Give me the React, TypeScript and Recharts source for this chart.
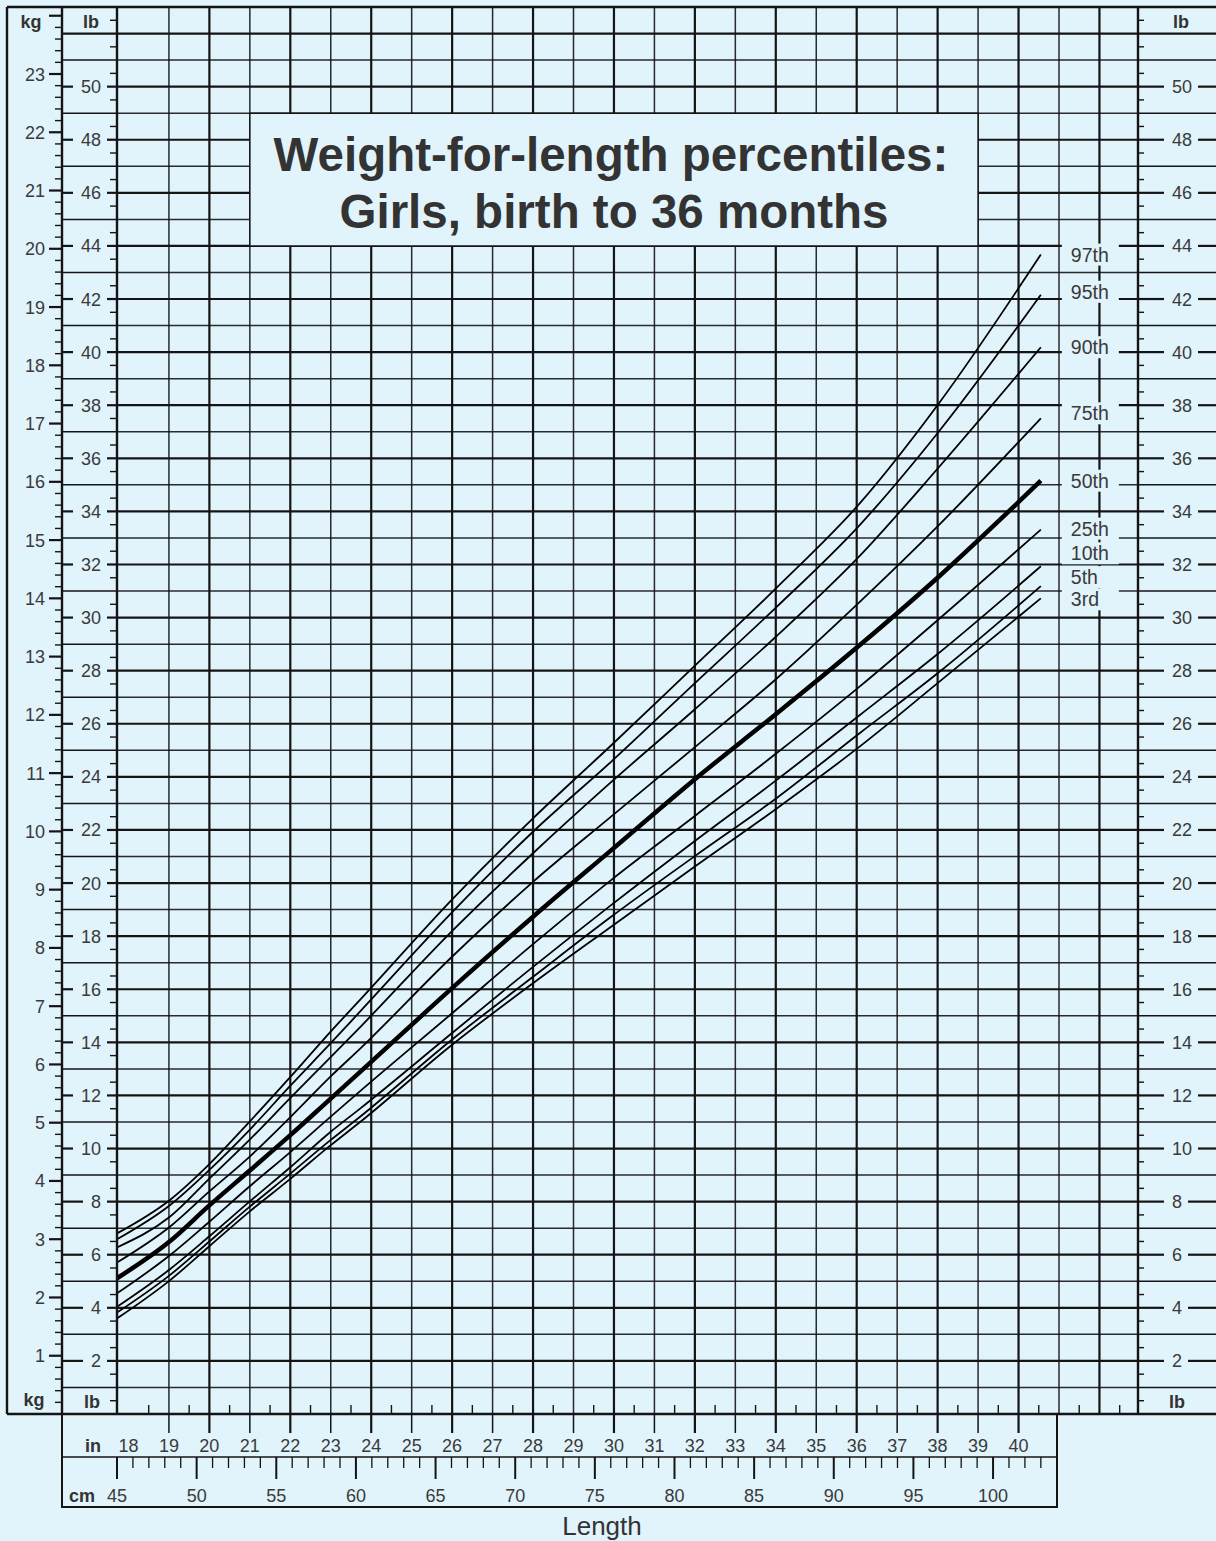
import React from "react";
import {
  ComposedChart,
  Line,
  XAxis,
  YAxis,
  CartesianGrid,
  ReferenceArea,
  Customized,
} from "recharts";

const lengthCm = [45, 48.3, 50.8, 53.3, 55.9, 58.4, 60.3, 66, 71.1, 76, 81.3, 86.4, 91.6, 96.5, 103];

// weight (kg) per percentile
const p97 = [3.1, 3.67, 4.29, 5.01, 5.79, 6.56, 7.12, 8.82, 10.22, 11.47, 12.85, 14.18, 15.62, 17.31, 19.9];
const p95 = [3.0, 3.58, 4.19, 4.87, 5.64, 6.36, 6.92, 8.6, 9.99, 11.19, 12.55, 13.85, 15.25, 16.83, 19.21];
const p90 = [2.86, 3.38, 4.04, 4.7, 5.43, 6.12, 6.65, 8.28, 9.62, 10.84, 12.1, 13.35, 14.72, 16.22, 18.31];
const p75 = [2.6, 3.21, 3.82, 4.41, 5.1, 5.79, 6.28, 7.84, 9.13, 10.25, 11.45, 12.62, 13.93, 15.23, 17.09];
const p50 = [2.33, 2.96, 3.58, 4.17, 4.79, 5.41, 5.88, 7.3, 8.53, 9.67, 10.9, 12.02, 13.19, 14.35, 16.02];
const p25 = [2.07, 2.72, 3.3, 3.9, 4.5, 5.1, 5.55, 6.87, 8.06, 9.16, 10.27, 11.34, 12.48, 13.62, 15.18];
const p10 = [1.84, 2.48, 3.05, 3.64, 4.24, 4.84, 5.25, 6.53, 7.67, 8.73, 9.84, 10.88, 11.99, 13.04, 14.55];
const p5 = [1.74, 2.38, 2.96, 3.55, 4.13, 4.7, 5.11, 6.42, 7.5, 8.53, 9.58, 10.57, 11.68, 12.71, 14.21];
const p3 = [1.64, 2.29, 2.88, 3.47, 4.04, 4.61, 5.02, 6.33, 7.39, 8.36, 9.4, 10.39, 11.45, 12.54, 14.0];

const seriesKeys = ["p97", "p95", "p90", "p75", "p50", "p25", "p10", "p5", "p3"];
const seriesNames = ["97th", "95th", "90th", "75th", "50th", "25th", "10th", "5th", "3rd"];
const seriesValues = [p97, p95, p90, p75, p50, p25, p10, p5, p3];

// small vertical nudges so the end labels don't run into each other
const labelNudge = [0, -3, 0, -5, 0, -1, -13, -9, 1];

const CM_PER_IN = 2.54;
const lbTicks = Array.from({ length: 107 }, (_, i) => i / 2);
const kgTicks = Array.from({ length: 121 }, (_, i) => i / 5);
const inchTicks = Array.from({ length: 50 }, (_, i) => (18 + i / 2) * CM_PER_IN);
const cmTicks = Array.from({ length: 59 }, (_, i) => 45 + i);
const oddLb = Array.from({ length: 26 }, (_, i) => 2 * i + 1);
const evenLb = Array.from({ length: 26 }, (_, i) => 2 * i + 2);
const oddIn = [19, 21, 23, 25, 27, 29, 31, 33, 35, 37, 39, 41].map((v) => v * CM_PER_IN);
const evenIn = [20, 22, 24, 26, 28, 30, 32, 34, 36, 38, 40, 42].map((v) => v * CM_PER_IN);

const data = lengthCm.map((cm, i) => {
  const row: Record<string, number> = { cm };
  seriesKeys.forEach((k, s) => {
    row[k] = seriesValues[s][i];
  });
  return row;
});

const BG = "#e1f3fb";
const INK = "#141414";
const TXT = "#3a3a3a";
const FONT = "'Liberation Sans', Arial, Helvetica, sans-serif";

// layout
const W = 1216;
const H = 1541;
const FRAME_L = 7;
const TOP = 7;
const KG_X = 62;
const LB_X = 117;
const R_X = 1138;
const BOTTOM = 1414;
const RULER_R = 1057;
const RULER_MID = 1457;
const RULER_B = 1507;

const isWhole = (v: number) => Math.abs(v - Math.round(v)) < 1e-6;

const KgTick = (props: any) => {
  const { y, payload } = props;
  const v = payload.value;
  if (v < 0.01) return <g />;
  if (isWhole(v)) {
    return (
      <g>
        <line x1={49} x2={KG_X} y1={y} y2={y} stroke={INK} strokeWidth={2.2} />
        {Math.round(v) < 24 && (
          <text x={45} y={y + 6.5} textAnchor="end" fontSize={18} fill={TXT} fontFamily={FONT}>
            {Math.round(v)}
          </text>
        )}
      </g>
    );
  }
  return <line x1={55} x2={KG_X} y1={y} y2={y} stroke={INK} strokeWidth={1.4} />;
};

const LbLeftTick = (props: any) => {
  const { y, payload } = props;
  const v = payload.value;
  if (v <= 0 || v >= 53) return <g />;
  if (!isWhole(v)) return <line x1={110} x2={LB_X} y1={y} y2={y} stroke={INK} strokeWidth={1.4} />;
  const n = Math.round(v);
  if (n % 2 === 1 || n === 52) {
    return <line x1={KG_X} x2={LB_X} y1={y} y2={y} stroke={INK} strokeWidth={n % 2 ? 1.5 : 2.2} />;
  }
  const w = String(n).length * 10;
  return (
    <g>
      <line x1={KG_X} x2={101 - w - 8} y1={y} y2={y} stroke={INK} strokeWidth={2.2} />
      <line x1={107} x2={LB_X} y1={y} y2={y} stroke={INK} strokeWidth={2.2} />
      <text x={101} y={y + 6.5} textAnchor="end" fontSize={18} fill={TXT} fontFamily={FONT}>
        {n}
      </text>
    </g>
  );
};

const LbRightTick = (props: any) => {
  const { y, payload } = props;
  const v = payload.value;
  if (v <= 0 || v >= 53) return <g />;
  if (!isWhole(v)) return <line x1={R_X} x2={R_X + 6} y1={y} y2={y} stroke={INK} strokeWidth={1.4} />;
  const n = Math.round(v);
  if (n % 2 === 1 || n === 52) {
    return <line x1={R_X} x2={W} y1={y} y2={y} stroke={INK} strokeWidth={n % 2 ? 1.5 : 2.2} />;
  }
  const w = String(n).length * 10;
  return (
    <g>
      <line x1={R_X} x2={1164} y1={y} y2={y} stroke={INK} strokeWidth={2.2} />
      <line x1={1172 + w + 6} x2={W} y1={y} y2={y} stroke={INK} strokeWidth={2.2} />
      <text x={1172} y={y + 6.5} textAnchor="start" fontSize={18} fill={TXT} fontFamily={FONT}>
        {n}
      </text>
    </g>
  );
};

const InchTick = (props: any) => {
  const { x, payload } = props;
  const inch = Math.round((payload.value / CM_PER_IN) * 2) / 2;
  if (!isWhole(inch)) {
    return <line x1={x} x2={x} y1={BOTTOM - 9} y2={BOTTOM} stroke={INK} strokeWidth={1.4} />;
  }
  if (inch > 40) return <g />;
  return (
    <g>
      {inch >= 19 && (
        <line x1={x} x2={x} y1={BOTTOM} y2={1433} stroke={INK} strokeWidth={inch % 2 ? 1.5 : 2.2} />
      )}
      <text x={x} y={1452} textAnchor="middle" fontSize={18} fill={TXT} fontFamily={FONT}>
        {inch}
      </text>
    </g>
  );
};

const CmTick = (props: any) => {
  const { x, payload } = props;
  const v = Math.round(payload.value);
  if (v % 5 === 0) {
    return (
      <g>
        <line x1={x} x2={x} y1={RULER_MID} y2={1479} stroke={INK} strokeWidth={2} />
        <text x={x} y={1502} textAnchor="middle" fontSize={18} fill={TXT} fontFamily={FONT}>
          {v}
        </text>
      </g>
    );
  }
  return <line x1={x} x2={x} y1={RULER_MID} y2={1468} stroke={INK} strokeWidth={1.3} />;
};

const TitleLabel = (props: any) => {
  const vb = props.viewBox || { x: 249, y: 113, width: 729, height: 133 };
  const cx = vb.x + vb.width / 2;
  return (
    <g fontFamily={FONT} fontWeight={700} fontSize={47.5} fill="#333">
      <text x={cx - 3} y={vb.y + 58} textAnchor="middle">
        Weight-for-length percentiles:
      </text>
      <text x={cx} y={vb.y + 115} textAnchor="middle">
        Girls, birth to 36 months
      </text>
    </g>
  );
};

const endLabel = (name: string, nudge: number) => (props: any) => {
  const { x, y, index } = props;
  if (index !== lengthCm.length - 1) return <g />;
  const cy = y + nudge;
  return (
    <g>
      <rect x={x + 21} y={cy - 11} width={57} height={22} fill={BG} />
      <text x={x + 30} y={cy + 7} fontSize={19.5} fill={TXT} fontFamily={FONT}>
        {name}
      </text>
    </g>
  );
};

const headStyle = { fontFamily: FONT, fontWeight: 700, fontSize: 18, fill: "#333" };

const Frame = () => (
  <g>
    <line x1={FRAME_L} x2={W} y1={TOP} y2={TOP} stroke={INK} strokeWidth={2.4} />
    <line x1={FRAME_L} x2={W} y1={BOTTOM} y2={BOTTOM} stroke={INK} strokeWidth={2.4} />
    <line x1={FRAME_L} x2={FRAME_L} y1={TOP} y2={BOTTOM} stroke={INK} strokeWidth={2.4} />
    <polyline
      points={`${KG_X},${BOTTOM} ${KG_X},${RULER_B} ${RULER_R},${RULER_B} ${RULER_R},${BOTTOM}`}
      fill="none"
      stroke={INK}
      strokeWidth={2}
    />
    <line x1={KG_X} x2={RULER_R} y1={RULER_MID} y2={RULER_MID} stroke={INK} strokeWidth={1.6} />
    <text x={31} y={28} textAnchor="middle" {...headStyle}>kg</text>
    <text x={91} y={28} textAnchor="middle" {...headStyle}>lb</text>
    <text x={1181} y={28} textAnchor="middle" {...headStyle}>lb</text>
    <text x={34} y={1406} textAnchor="middle" {...headStyle}>kg</text>
    <text x={92} y={1408} textAnchor="middle" {...headStyle}>lb</text>
    <text x={1177} y={1408} textAnchor="middle" {...headStyle}>lb</text>
    <text x={93} y={1452} textAnchor="middle" {...headStyle}>in</text>
    <text x={82} y={1502} textAnchor="middle" {...headStyle}>cm</text>
    <text x={602} y={1535} textAnchor="middle" fontFamily={FONT} fontSize={26} fill="#333">
      Length
    </text>
  </g>
);

export default function App() {
  return (
    <div style={{ position: "absolute", left: 0, top: 0, width: W, height: H, background: BG }}>
      <ComposedChart width={W} height={H} data={data} margin={{ top: TOP, right: 0, bottom: 0, left: FRAME_L }}>
        <XAxis
          xAxisId="in"
          dataKey="cm"
          type="number"
          domain={[45, 109.1]}
          allowDataOverflow
          ticks={inchTicks}
          interval={0}
          height={43}
          tickLine={false}
          axisLine={false}
          tick={InchTick}
        />
        <XAxis
          xAxisId="cm"
          dataKey="cm"
          type="number"
          domain={[45, 109.1]}
          allowDataOverflow
          ticks={cmTicks}
          interval={0}
          height={84}
          tickLine={false}
          axisLine={false}
          tick={CmTick}
        />
        <YAxis
          yAxisId="lb"
          orientation="left"
          type="number"
          domain={[0, 53]}
          allowDataOverflow
          ticks={lbTicks}
          interval={0}
          width={55}
          tickLine={false}
          axisLine={{ stroke: INK, strokeWidth: 2.4 }}
          tick={LbLeftTick}
        />
        <YAxis
          yAxisId="kg"
          orientation="left"
          type="number"
          domain={[0, 24.15]}
          allowDataOverflow
          ticks={kgTicks}
          interval={0}
          width={55}
          tickLine={false}
          axisLine={{ stroke: INK, strokeWidth: 2.4 }}
          tick={KgTick}
        />
        <YAxis
          yAxisId="lbR"
          orientation="right"
          type="number"
          domain={[0, 53]}
          allowDataOverflow
          ticks={lbTicks}
          interval={0}
          width={78}
          tickLine={false}
          axisLine={{ stroke: INK, strokeWidth: 2.4 }}
          tick={LbRightTick}
        />
        <CartesianGrid
          xAxisId="cm"
          yAxisId="lb"
          horizontalValues={oddLb}
          verticalValues={oddIn}
          stroke={INK}
          strokeWidth={1.5}
          strokeOpacity={0.9}
        />
        <CartesianGrid
          xAxisId="cm"
          yAxisId="lb"
          horizontalValues={evenLb}
          verticalValues={evenIn}
          stroke={INK}
          strokeWidth={2.2}
        />
        <ReferenceArea
          xAxisId="cm"
          yAxisId="lb"
          x1={21 * CM_PER_IN}
          x2={39 * CM_PER_IN}
          y1={44}
          y2={49}
          fill={BG}
          fillOpacity={1}
          stroke={INK}
          strokeWidth={1.5}
          label={<TitleLabel />}
        />
        {seriesKeys.map((k, i) => (
          <Line
            key={k}
            xAxisId="cm"
            yAxisId="kg"
            dataKey={k}
            type="monotone"
            stroke="#000"
            strokeWidth={k === "p50" ? 4.5 : 1.8}
            dot={false}
            activeDot={false}
            isAnimationActive={false}
            label={endLabel(seriesNames[i], labelNudge[i])}
          />
        ))}
        <Customized component={Frame} />
      </ComposedChart>
    </div>
  );
}
